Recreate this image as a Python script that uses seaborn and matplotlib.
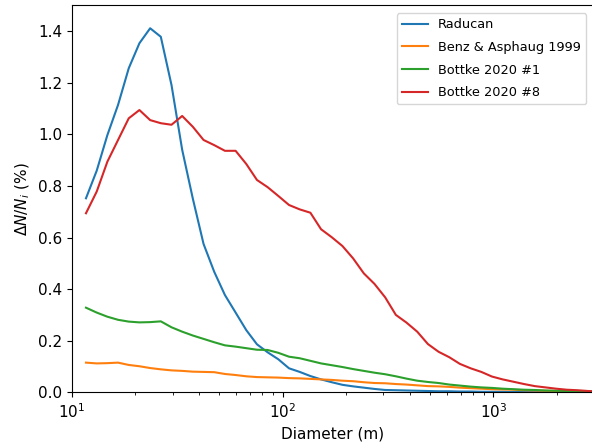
import numpy as np
import pandas as pd
import matplotlib
matplotlib.use("Agg")
import matplotlib.pyplot as plt
import seaborn as sns

plt.style.use("default")
plt.rcParams['font.family'] = ['DejaVu Sans']

diameter = [11.65, 13.10, 14.72, 16.54, 18.59, 20.89, 23.49, 26.39, 29.66, 33.33,
            37.46, 42.10, 47.31, 53.17, 59.76, 67.14, 75.46, 84.81, 95.30, 107.1,
            120.4, 135.3, 152.0, 170.9, 192.0, 215.8, 242.5, 272.6, 306.3, 344.2,
            386.8, 434.7, 488.6, 549.1, 617.1, 693.5, 779.4, 875.9, 984.2, 1106,
            1243, 1397, 1570, 1765, 1983, 2228, 2504, 2814, 3163]

raducan = [0.752, 0.859, 0.997, 1.114, 1.256, 1.353, 1.411, 1.378, 1.191, 0.940,
           0.750, 0.575, 0.467, 0.377, 0.309, 0.241, 0.186, 0.155, 0.128, 0.093,
           0.079, 0.063, 0.050, 0.039, 0.029, 0.023, 0.018, 0.013, 0.009, 0.008,
           0.007, 0.006, 0.005, 0.004, 0.004, 0.003, 0.003, 0.002, 0.002, 0.002,
           0.001, 0.001, 0.001, 0.001, 0.001, 0.000, 0.000, 0.000, 0.000]

benz = [0.115, 0.112, 0.113, 0.115, 0.106, 0.101, 0.094, 0.089, 0.085, 0.083,
        0.080, 0.079, 0.078, 0.071, 0.067, 0.062, 0.059, 0.058, 0.057, 0.055,
        0.054, 0.052, 0.050, 0.048, 0.045, 0.043, 0.039, 0.036, 0.035, 0.032,
        0.030, 0.027, 0.024, 0.023, 0.021, 0.018, 0.016, 0.014, 0.012, 0.011,
        0.010, 0.008, 0.007, 0.006, 0.005, 0.004, 0.004, 0.003, 0.003]

bottke1 = [0.328, 0.309, 0.293, 0.281, 0.274, 0.271, 0.272, 0.275, 0.252, 0.235,
           0.220, 0.207, 0.194, 0.182, 0.177, 0.171, 0.165, 0.164, 0.153, 0.138,
           0.132, 0.122, 0.112, 0.105, 0.098, 0.090, 0.083, 0.076, 0.070, 0.062,
           0.053, 0.045, 0.040, 0.036, 0.030, 0.026, 0.022, 0.019, 0.017, 0.014,
           0.012, 0.010, 0.009, 0.007, 0.006, 0.005, 0.004, 0.003, 0.003]

bottke8 = [0.694, 0.778, 0.894, 0.978, 1.062, 1.094, 1.055, 1.043, 1.037, 1.071,
           1.029, 0.978, 0.958, 0.936, 0.936, 0.885, 0.823, 0.795, 0.761, 0.726,
           0.709, 0.696, 0.632, 0.601, 0.567, 0.519, 0.461, 0.420, 0.368, 0.300,
           0.270, 0.235, 0.187, 0.157, 0.136, 0.110, 0.093, 0.079, 0.061, 0.050,
           0.041, 0.032, 0.024, 0.019, 0.014, 0.010, 0.008, 0.005, 0.003]

labels = ["Raducan", "Benz & Asphaug 1999", "Bottke 2020 #1", "Bottke 2020 #8"]
series = [raducan, benz, bottke1, bottke8]

rows = []
for lab, vals in zip(labels, series):
    for d, v in zip(diameter, vals):
        rows.append({"Diameter": d, "value": v, "model": lab})
df = pd.DataFrame(rows)

fig = plt.figure(figsize=(5.92, 4.48), dpi=100)
ax = fig.add_axes([72/592, (448-392.3)/448, (594-72)/592, (392.3-5.3)/448])

palette = ["#1f77b4", "#ff7f0e", "#2ca02c", "#d62728"]
sns.lineplot(data=df, x="Diameter", y="value", hue="model", hue_order=labels,
             palette=palette, ax=ax, linewidth=1.5, sort=False, estimator=None)

ax.set_xscale("log")
ax.set_xlim(10, 3000)
ax.set_ylim(0, 1.5)
ax.set_xlabel("Diameter (m)", fontsize=11)
ax.set_ylabel(r"$\Delta N/N_i$ (%)", fontsize=11)
ax.tick_params(labelsize=11)
ax.legend(loc="upper right", fontsize=9.3, frameon=True, labelspacing=0.75,
          borderaxespad=0.6)

fig.savefig("out.png", dpi=100)
